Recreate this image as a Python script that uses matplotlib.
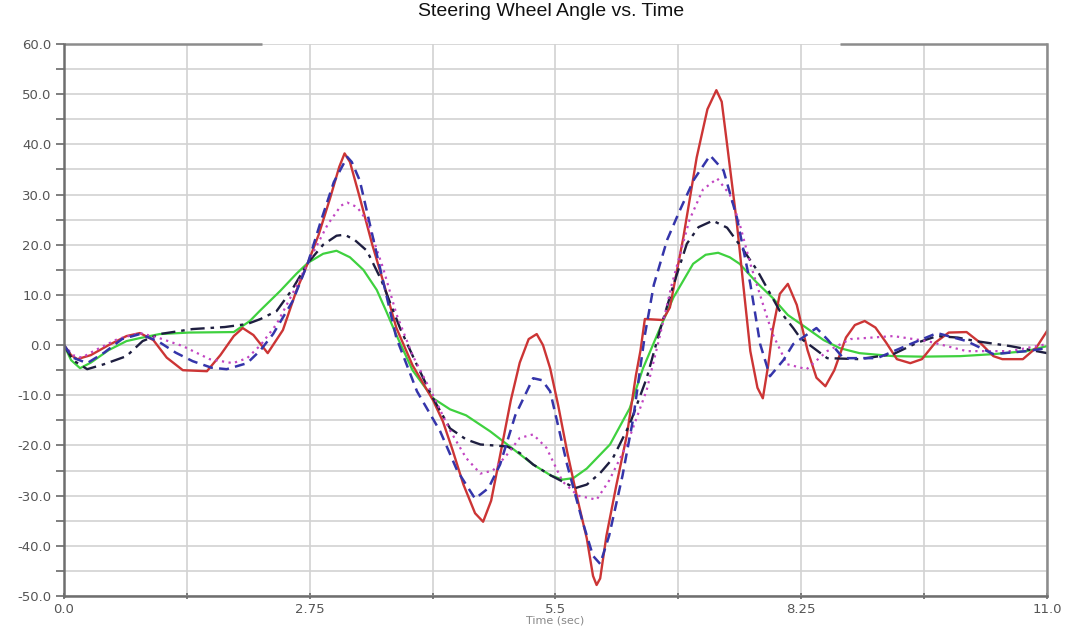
import matplotlib
matplotlib.use('Agg')
import matplotlib.pyplot as plt
from matplotlib.ticker import MultipleLocator, FormatStrFormatter

# ── Steering wheel angle (deg) vs time (s), five runs ─────────────────────────
t_green = [0.0, 0.08, 0.18, 0.3, 0.5, 0.7, 0.85, 1.07, 1.4, 1.9, 2.08, 2.19, 2.42, 2.6, 2.73,
           2.9, 3.05, 3.2, 3.35, 3.5, 3.6, 3.72, 3.9, 4.13, 4.32, 4.5, 4.77, 4.96, 5.25, 5.45,
           5.58, 5.7, 5.85, 6.11, 6.33, 6.48, 6.67, 6.82, 7.04, 7.18, 7.32, 7.45, 7.56, 7.75,
           7.93, 8.1, 8.31, 8.5, 8.68, 8.9, 9.28, 9.6, 10.03, 10.4, 10.77, 11.0]
a_green = [0.0, -3.0, -4.6, -3.5, -1.0, 0.8, 1.4, 2.2, 2.5, 2.6, 4.8, 6.8, 10.8, 14.2, 16.4,
           18.2, 18.8, 17.5, 15.0, 11.0, 7.0, 2.0, -5.0, -10.6, -12.8, -14.0, -17.2, -19.8,
           -23.8, -26.0, -26.8, -26.5, -24.6, -19.8, -12.6, -4.6, 3.4, 9.5, 16.2, 18.0, 18.4,
           17.5, 16.2, 12.5, 9.4, 6.0, 3.4, 1.0, -0.6, -1.6, -2.2, -2.3, -2.2, -1.8, -1.2, -0.2]

t_dd = [0.0, 0.1, 0.26, 0.45, 0.7, 0.88, 1.07, 1.44, 1.8, 2.05, 2.2, 2.38, 2.55, 2.73, 2.9,
        3.05, 3.14, 3.25, 3.39, 3.55, 3.76, 3.95, 4.13, 4.32, 4.5, 4.66, 4.96, 5.1, 5.25, 5.45,
        5.58, 5.72, 5.85, 6.0, 6.14, 6.33, 6.52, 6.67, 6.82, 6.97, 7.1, 7.26, 7.42, 7.6, 7.76,
        8.01, 8.16, 8.24, 8.54, 8.9, 9.28, 9.55, 9.77, 10.0, 10.2, 10.59, 11.0]
a_dd = [0.0, -3.0, -4.8, -3.8, -2.2, 0.8, 2.2, 3.2, 3.6, 4.2, 5.2, 6.8, 11.0, 16.4, 20.0,
        21.8, 22.0, 21.0, 18.8, 13.0, 3.4, -4.0, -10.6, -16.6, -18.8, -19.8, -20.2, -21.5,
        -23.8, -26.0, -27.2, -28.5, -27.8, -25.5, -22.6, -15.8, -6.6, 3.0, 12.0, 20.2, 23.5,
        24.8, 23.4, 19.0, 14.8, 6.8, 3.4, 1.4, -2.6, -2.8, -1.8, 0.5, 1.8, 1.5, 0.8, -0.2, -1.6]

t_dot = [0.0, 0.1, 0.2, 0.33, 0.6, 0.85, 1.05, 1.33, 1.63, 1.89, 2.05, 2.2, 2.38, 2.55, 2.73,
         2.95, 3.1, 3.17, 3.28, 3.39, 3.57, 3.72, 3.9, 4.13, 4.32, 4.5, 4.66, 4.8, 4.95, 5.1,
         5.25, 5.4, 5.58, 5.75, 5.96, 6.1, 6.3, 6.52, 6.67, 6.8, 7.0, 7.15, 7.31, 7.45, 7.56,
         7.68, 7.87, 7.93, 8.09, 8.31, 8.54, 8.8, 9.28, 9.66, 10.1, 10.59, 11.0]
a_dot = [0.0, -2.0, -2.5, -1.2, 1.2, 2.4, 1.5, -0.2, -2.8, -3.6, -2.6, 0.0, 4.2, 10.0, 16.4,
         24.0, 27.8, 28.4, 27.5, 24.8, 15.4, 6.2, -2.0, -10.0, -17.0, -22.5, -25.6, -25.0,
         -22.0, -18.5, -17.8, -20.5, -27.2, -30.0, -30.8, -27.0, -19.8, -9.0, 2.0, 12.0, 25.0,
         31.0, 33.2, 30.0, 24.2, 16.2, 5.4, 2.2, -3.8, -4.8, -1.2, 1.2, 1.8, 0.8, -1.2, -1.2, 0.2]

t_blue = [0.0, 0.1, 0.26, 0.45, 0.65, 0.85, 1.05, 1.25, 1.44, 1.65, 1.82, 2.05, 2.2, 2.34, 2.56,
          2.73, 2.88, 3.02, 3.17, 3.22, 3.31, 3.45, 3.57, 3.72, 3.95, 4.21, 4.4, 4.6, 4.75, 4.88,
          5.05, 5.25, 5.35, 5.44, 5.63, 5.8, 5.92, 6.0, 6.1, 6.25, 6.37, 6.5, 6.6, 6.75, 6.89,
          7.05, 7.23, 7.38, 7.53, 7.68, 7.79, 7.9, 8.05, 8.16, 8.42, 8.55, 8.72, 9.1, 9.47, 9.77,
          10.1, 10.4, 10.77, 11.0]
a_blue = [0.0, -2.5, -3.6, -1.5, 1.2, 2.2, 0.8, -1.5, -3.2, -4.5, -4.8, -3.6, -1.0, 2.2, 8.8,
          16.4, 25.0, 32.5, 37.5, 36.5, 32.8, 22.0, 12.8, 1.4, -9.2, -17.2, -25.0, -30.6, -28.5,
          -23.8, -14.0, -6.6, -7.0, -9.2, -23.8, -35.0, -42.0, -43.6, -38.0, -26.0, -14.6, 2.0,
          12.0, 21.0, 26.8, 33.0, 37.8, 34.8, 25.4, 12.2, 0.2, -6.2, -3.0, 0.2, 3.4, 1.0, -2.6,
          -2.6, 0.2, 2.4, 0.8, -1.8, -1.2, -0.6]

t_red = [0.0, 0.08, 0.15, 0.3, 0.5, 0.7, 0.85, 1.0, 1.15, 1.33, 1.6, 1.75, 1.9, 2.0, 2.12,
         2.28, 2.45, 2.6, 2.73, 2.85, 2.98, 3.08, 3.14, 3.2, 3.31, 3.45, 3.57, 3.72, 3.9, 4.13,
         4.24, 4.35, 4.47, 4.6, 4.69, 4.78, 4.88, 5.0, 5.1, 5.2, 5.29, 5.36, 5.44, 5.53, 5.63,
         5.75, 5.85, 5.92, 5.96, 6.0, 6.07, 6.18, 6.3, 6.4, 6.45, 6.5, 6.7, 6.78, 6.93, 7.08,
         7.2, 7.3, 7.36, 7.42, 7.53, 7.6, 7.68, 7.76, 7.82, 7.88, 7.93, 8.01, 8.1, 8.2, 8.32,
         8.42, 8.52, 8.62, 8.75, 8.85, 8.96, 9.08, 9.2, 9.32, 9.47, 9.6, 9.75, 9.9, 10.1, 10.25,
         10.4, 10.5, 10.73, 10.88, 11.0]
a_red = [0.0, -2.0, -2.8, -2.0, 0.0, 1.8, 2.4, 1.0, -2.5, -5.0, -5.2, -2.0, 1.8, 3.4, 2.0,
         -1.6, 3.0, 10.8, 16.4, 22.0, 29.4, 35.5, 38.2, 36.5, 29.4, 20.0, 12.8, 3.4, -4.0, -11.0,
         -15.2, -21.0, -27.8, -33.5, -35.2, -31.0, -22.0, -11.0, -3.5, 1.2, 2.2, 0.0, -4.6,
         -12.0, -21.2, -31.0, -38.5, -46.0, -47.8, -46.5, -38.0, -28.0, -17.8, -6.0, -1.2, 5.2,
         5.0, 7.5, 21.4, 37.4, 47.0, 50.8, 48.5, 40.0, 24.2, 12.2, -1.2, -8.5, -10.6, -4.0, 3.0,
         10.2, 12.2, 8.0, -1.0, -6.5, -8.2, -5.0, 1.5, 4.0, 4.8, 3.5, 0.5, -2.8, -3.6, -2.8, 0.5,
         2.5, 2.6, 0.5, -2.2, -2.8, -2.8, -0.5, 2.8]

x_ticks = [0.0, 2.75, 5.5, 8.25, 11.0]
x_tick_labels = ['0.0', '2.75', '5.5', '8.25', '11.0']

# ── Figure ────────────────────────────────────────────────────────────────────
fig = plt.figure(figsize=(10.66, 6.26), dpi=100)
ax = fig.add_axes([0.0600, 0.0479, 0.9222, 0.8818])

series = [
    (t_green, a_green, dict(color='#3fd13f', lw=1.6, ls='-')),
    (t_red,   a_red,   dict(color='#cc3535', lw=1.7, ls='-')),
    (t_dd,    a_dd,    dict(color='#1e1e40', lw=1.7, ls=(0, (6, 2.5, 1.5, 2.5)))),
    (t_dot,   a_dot,   dict(color='#c245c2', lw=1.6, ls=(0, (1, 2)))),
    (t_blue,  a_blue,  dict(color='#3535aa', lw=1.8, ls=(0, (4, 2.5)))),
]
for t, a, style in series:
    ax.plot(t, a, solid_joinstyle='round', dash_joinstyle='round', **style)

ax.set_xlim(0, 11)
ax.set_ylim(-50, 60)

ax.set_xticks(x_ticks)
ax.set_xticklabels(x_tick_labels)
ax.xaxis.set_minor_locator(MultipleLocator(1.375))
ax.yaxis.set_major_locator(MultipleLocator(10))
ax.yaxis.set_minor_locator(MultipleLocator(5))
ax.yaxis.set_major_formatter(FormatStrFormatter('%.1f'))

ax.grid(which='both', color='#d2d2d2', lw=1.2)
ax.set_axisbelow(True)

ax.tick_params(axis='y', which='both', direction='out', length=6, width=1.2,
               color='#6a6a6a', labelsize=9.5, labelcolor='#555555', pad=3)
ax.tick_params(axis='x', which='both', direction='inout', length=4, width=1.2,
               color='#6a6a6a', labelsize=9.5, labelcolor='#555555', pad=3)

for side in ('left', 'bottom'):
    ax.spines[side].set_color('#6e6e6e')
    ax.spines[side].set_linewidth(1.8)
ax.spines['right'].set_color('#8c8c8c')
ax.spines['right'].set_linewidth(1.8)
ax.spines['top'].set_visible(False)

# top border is broken where the title panel sits
for x0, x1 in [(0.0, 0.2014), (0.7894, 1.0)]:
    ax.plot([x0, x1], [1, 1], transform=ax.transAxes, color='#8c8c8c', lw=1.8,
            clip_on=False, solid_capstyle='butt')

fig.text(0.517, 1 - 12 / 626, 'Steering Wheel Angle vs. Time', ha='center', va='center',
         family='Liberation Sans', fontsize=14, color='#111111')
fig.text(0.521, 0.001, 'Time (sec)', ha='center', va='bottom',
         fontsize=8, color='#888888')

fig.savefig('out.png', dpi=100, facecolor='white')
